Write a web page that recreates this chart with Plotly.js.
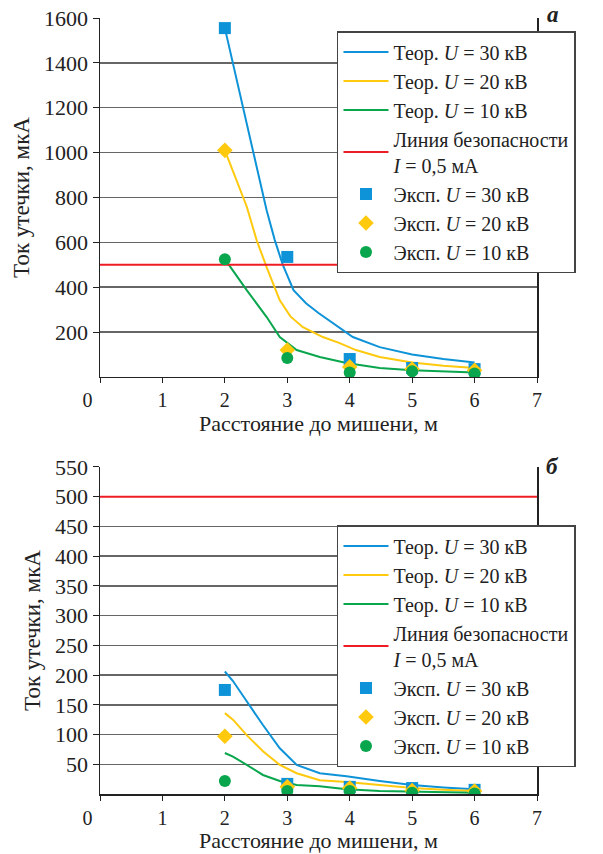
<!DOCTYPE html>
<html>
<head>
<meta charset="utf-8">
<script src="https://cdn.plot.ly/plotly-3.0.1.min.js"></script>
<style>html,body{margin:0;padding:0;background:#fff;}#chart{width:603px;height:854px;}</style>
</head>
<body>
<div id="chart"></div>
<script>
// ---- Data (panel а) ----
const expX = [2, 3, 4, 5, 6];
const aExp30 = [1555, 535, 80, 40, 35];
const aExp20 = [1010, 120, 45, 35, 30];
const aExp10 = [525, 85, 20, 25, 15];

const aTh30X = [2, 2.25, 2.5, 2.67, 2.8, 2.93, 3.1, 3.3, 3.5, 3.73, 4.05, 4.48, 5, 5.5, 6];
const aTh30Y = [1555, 1252, 949, 742, 610, 498, 387, 329, 285, 240, 178, 133, 100, 80, 65];
const aTh20X = [2, 2.35, 2.51, 2.67, 2.88, 3.05, 3.25, 3.57, 3.84, 4.1, 4.48, 5, 5.5, 6];
const aTh20Y = [1010, 760, 609, 489, 342, 270, 222, 178, 151, 120, 89, 65, 50, 40];
const aTh10X = [2, 2.35, 2.67, 2.88, 3.15, 3.52, 3.95, 4.48, 5, 5.5, 6];
const aTh10Y = [525, 387, 267, 178, 120, 89, 62, 40, 30, 25, 20];

// ---- Data (panel б) ----
const bExp30 = [175, 17, 12, 10, 7];
const bExp20 = [97, 12, 10, 6, 5];
const bExp10 = [22, 5, 5, 2, 1];

const bThX = [2, 2.13, 2.35, 2.61, 2.88, 3.15, 3.52, 3.95, 4.48, 5, 5.5, 6];
const bTh30Y = [206, 190, 156, 116, 77, 49, 35, 30, 22, 15, 11, 8];
const bTh20Y = [136, 125, 99, 72, 49, 35, 23, 20, 15, 10, 7, 5];
const bTh10Y = [69, 63, 49, 32, 22, 15, 13, 8, 5, 4, 3, 2];

const safeX = [0, 7];
const safeY = [500, 500];

const xTickVals = [0, 1, 2, 3, 4, 5, 6, 7];
const xTickText = ['0\u00a0\u00a0\u00a0\u00a0\u00a0', '1', '2', '3', '4', '5', '6', '7'];
const aYTicks = [200, 400, 600, 800, 1000, 1200, 1400, 1600];
const bYTicks = [50, 100, 150, 200, 250, 300, 350, 400, 450, 500, 550];

const names = {
  th30: 'Теор. <i>U</i> = 30 кВ',
  th20: 'Теор. <i>U</i> = 20 кВ',
  th10: 'Теор. <i>U</i> = 10 кВ',
  safe: 'Линия безопасности<br><i>I</i> = 0,5 мА',
  ex30: 'Эксп. <i>U</i> = 30 кВ',
  ex20: 'Эксп. <i>U</i> = 20 кВ',
  ex10: 'Эксп. <i>U</i> = 10 кВ'
};

const C_BLUE = '#0f93d8', C_YEL = '#ffc90e', C_GRN = '#0aa64e', C_RED = '#ee1c25';
const FONT = 'Liberation Serif, Times New Roman, serif';

function panel(xa, ya, leg, th, ex) {
  const common = {xaxis: xa, yaxis: ya, legend: leg};
  return [
    Object.assign({x: th[0][0], y: th[0][1], mode: 'lines', name: names.th30, line: {color: C_BLUE, width: 2}}, common),
    Object.assign({x: th[1][0], y: th[1][1], mode: 'lines', name: names.th20, line: {color: C_YEL, width: 2}}, common),
    Object.assign({x: th[2][0], y: th[2][1], mode: 'lines', name: names.th10, line: {color: C_GRN, width: 2}}, common),
    Object.assign({x: safeX, y: safeY, mode: 'lines', name: names.safe, line: {color: C_RED, width: 2}}, common),
    Object.assign({x: expX, y: ex[0], mode: 'markers', name: names.ex30, marker: {color: C_BLUE, symbol: 'square', size: 12}}, common),
    Object.assign({x: expX, y: ex[1], mode: 'markers', name: names.ex20, marker: {color: C_YEL, symbol: 'diamond', size: 12}}, common),
    Object.assign({x: expX, y: ex[2], mode: 'markers', name: names.ex10, marker: {color: C_GRN, symbol: 'circle', size: 12}}, common)
  ];
}

const data = [].concat(
  panel('x', 'y', 'legend', [[aTh30X, aTh30Y], [aTh20X, aTh20Y], [aTh10X, aTh10Y]], [aExp30, aExp20, aExp10]),
  panel('x2', 'y2', 'legend2', [[bThX, bTh30Y], [bThX, bTh20Y], [bThX, bTh10Y]], [bExp30, bExp20, bExp10])
);

function xAxis(anchor) {
  return {
    anchor: anchor, range: [0, 7], tickvals: xTickVals, ticktext: xTickText,
    showgrid: false, zeroline: false, showline: true, linecolor: '#222', linewidth: 1.5,
    ticks: 'outside', ticklen: 5, tickcolor: '#222', tickwidth: 1,
    tickfont: {family: FONT, size: 20, color: '#222'},
    title: {text: 'Расстояние до мишени, м', font: {family: FONT, size: 22, color: '#222'}, standoff: 4}
  };
}
function yAxis(anchor, domain, range, ticks) {
  return {
    anchor: anchor, domain: domain, range: range, tickvals: ticks,
    showgrid: true, gridcolor: '#666', gridwidth: 1.5, zeroline: false,
    showline: true, linecolor: '#222', linewidth: 1.5, mirror: true,
    ticks: 'outside', ticklen: 6, tickcolor: '#222',
    tickfont: {family: FONT, size: 22, color: '#222'},
    title: {text: 'Ток утечки, мкА', font: {family: FONT, size: 23, color: '#222'}, standoff: 8}
  };
}

const legendStyle = {
  xref: 'paper', yref: 'paper', xanchor: 'left', yanchor: 'top', x: 0.5423,
  bgcolor: '#fff', bordercolor: '#444', borderwidth: 1.5, itemwidth: 45,
  font: {family: FONT, size: 20, color: '#222'}, tracegroupgap: 0
};

const layout = {
  width: 603, height: 854,
  margin: {l: 100, r: 66, t: 18, b: 60},
  paper_bgcolor: '#fff', plot_bgcolor: '#fff',
  showlegend: true,
  xaxis: xAxis('y'),
  yaxis: yAxis('x', [0.5374, 1], [0, 1600], aYTicks),
  xaxis2: xAxis('y2'),
  yaxis2: yAxis('x2', [0, 0.4214], [0, 550], bYTicks),
  legend: Object.assign({}, legendStyle, {y: 0.9832}),
  legend2: Object.assign({}, legendStyle, {y: 0.3466}),
  annotations: [
    {text: '<b><i>а</i></b>', xref: 'paper', yref: 'paper', x: 1.0366, y: 1.0039, xanchor: 'center', yanchor: 'middle', showarrow: false, font: {family: FONT, size: 23, color: '#222'}},
    {text: '<b><i>б</i></b>', xref: 'paper', yref: 'paper', x: 1.0366, y: 0.4214, xanchor: 'center', yanchor: 'middle', showarrow: false, font: {family: FONT, size: 23, color: '#222'}}
  ]
};

Plotly.newPlot('chart', data, layout, {displayModeBar: false, staticPlot: true});
</script>
</body>
</html>
